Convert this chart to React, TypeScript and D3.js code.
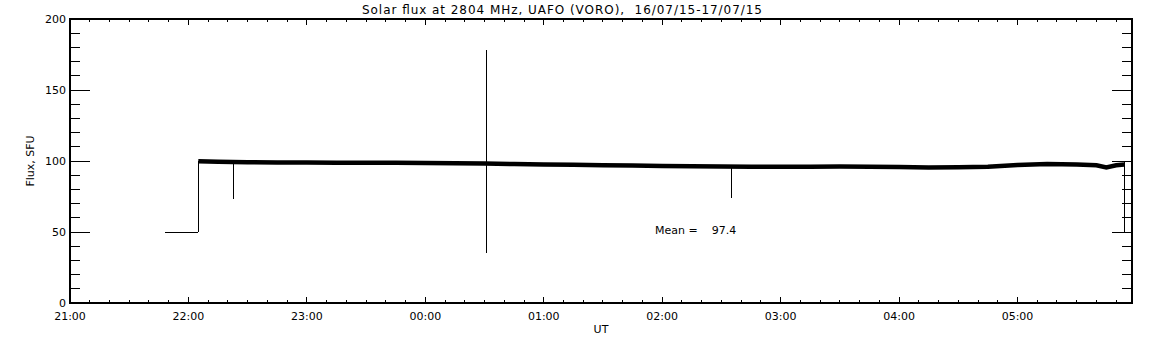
import * as d3 from "d3";

// time stamps (UT) and flux values
const trendTimes = [
  "22:05", "22:15", "22:30", "22:45", "23:00", "23:15", "23:30", "23:45",
  "00:00", "00:15", "00:30", "00:45", "01:00", "01:15", "01:30", "01:45",
  "02:00", "02:15", "02:30", "02:45", "03:00", "03:15", "03:30", "03:45",
  "04:00", "04:15", "04:30", "04:45", "05:00", "05:15", "05:30", "05:40",
  "05:45", "05:50", "05:54",
];
const trendFlux = [
  99.8, 99.5, 99.2, 99.0, 98.9, 98.8, 98.8, 98.7,
  98.6, 98.4, 98.3, 97.8, 97.6, 97.3, 97.0, 96.8,
  96.5, 96.3, 96.2, 96.0, 95.9, 96.0, 96.2, 96.0,
  95.7, 95.5, 95.6, 96.0, 97.2, 97.8, 97.5, 97.0,
  95.5, 97.0, 97.6,
];

// gap-filled start (50 SFU) before the receiver came on
const startTimes = ["21:48", "22:05"];
const startFlux = [50, 50];

// single-sample spikes: time, top, bottom
const spikeTimes = ["22:23", "00:31", "02:35", "05:54"];
const spikeTop = [99, 178, 96, 100];
const spikeBottom = [73, 35, 74, 50];

const xTickLabels = ["21:00", "22:00", "23:00", "00:00", "01:00", "02:00", "03:00", "04:00", "05:00"];
const yTickValues = [0, 50, 100, 150, 200];

const title = "Solar flux at 2804 MHz, UAFO (VORO),  16/07/15-17/07/15";
const meanText = "Mean =    97.4";

const W = 1152;
const H = 345;
const left = 70;
const right = 1132;
const top = 19;
const bottom = 303;

// minutes after 21:00 UT
function toMin(t: string) {
  const [h, m] = t.split(":").map(Number);
  const hh = h >= 21 ? h - 21 : h + 3;
  return hh * 60 + m;
}

export default function App() {
  const x = d3.scaleLinear().domain([0, 538]).range([left, right]);
  const y = d3.scaleLinear().domain([0, 200]).range([bottom, top]);

  const trend = trendTimes.map((t, i) => [toMin(t), trendFlux[i]] as [number, number]);
  const startSeg = startTimes.map((t, i) => [toMin(t), startFlux[i]] as [number, number]);

  const line = d3
    .line<[number, number]>()
    .x((d) => x(d[0]))
    .y((d) => y(d[1]));

  const majorX = d3.range(0, 539, 60);
  const minorX = d3.range(0, 539, 10).filter((v) => v % 60 !== 0);
  const minorY = d3.range(0, 201, 10).filter((v) => v % 50 !== 0);

  const font = "DejaVu Sans, sans-serif";

  return (
    <svg
      width={W}
      height={H}
      style={{ position: "absolute", left: 0, top: 0, background: "#fff" }}
      shapeRendering="crispEdges"
    >
      <rect x={0} y={0} width={W} height={H} fill="#fff" />
      <text
        x={562}
        y={14}
        textAnchor="middle"
        fontFamily={font}
        fontSize={12}
        textLength={400}
        fill="#000"
        style={{ whiteSpace: "pre" }}
      >
        {title}
      </text>

      {/* frame */}
      <rect x={left} y={top} width={right - left} height={bottom - top} fill="none" stroke="#000" strokeWidth={1.2} />

      {/* y ticks, left and right */}
      {yTickValues.map((v) => (
        <g key={"yt" + v}>
          <line x1={left} x2={left + 20} y1={y(v)} y2={y(v)} stroke="#000" />
          <line x1={right - 20} x2={right} y1={y(v)} y2={y(v)} stroke="#000" />
          <text x={left - 4} y={y(v) + 4} textAnchor="end" fontFamily={font} fontSize={11} fill="#000">
            {v}
          </text>
        </g>
      ))}
      {minorY.map((v) => (
        <g key={"ym" + v}>
          <line x1={left} x2={left + 10} y1={y(v)} y2={y(v)} stroke="#000" />
          <line x1={right - 10} x2={right} y1={y(v)} y2={y(v)} stroke="#000" />
        </g>
      ))}

      {/* x ticks, bottom and top */}
      {majorX.map((v, i) => (
        <g key={"xt" + v}>
          <line x1={x(v)} x2={x(v)} y1={bottom} y2={bottom - 6} stroke="#000" />
          <line x1={x(v)} x2={x(v)} y1={top} y2={top + 6} stroke="#000" />
          <text x={x(v)} y={320} textAnchor="middle" fontFamily={font} fontSize={11} fill="#000">
            {xTickLabels[i]}
          </text>
        </g>
      ))}
      {minorX.map((v) => (
        <g key={"xm" + v}>
          <line x1={x(v)} x2={x(v)} y1={bottom} y2={bottom - 3} stroke="#000" />
          <line x1={x(v)} x2={x(v)} y1={top} y2={top + 3} stroke="#000" />
        </g>
      ))}

      <text x={601} y={333} textAnchor="middle" fontFamily={font} fontSize={11} fill="#000">
        UT
      </text>
      <text
        transform={`translate(34,${(top + bottom) / 2}) rotate(-90)`}
        textAnchor="middle"
        fontFamily={font}
        fontSize={11}
        fill="#000"
      >
        Flux, SFU
      </text>

      {/* data */}
      <path d={line(startSeg) ?? ""} fill="none" stroke="#000" strokeWidth={1} />
      <line
        x1={x(toMin("22:05"))}
        x2={x(toMin("22:05"))}
        y1={y(50)}
        y2={y(100)}
        stroke="#000"
      />
      <path d={line(trend) ?? ""} fill="none" stroke="#000" strokeWidth={4.5} shapeRendering="auto" />
      {spikeTimes.map((t, i) => (
        <line
          key={"sp" + i}
          x1={x(toMin(t))}
          x2={x(toMin(t))}
          y1={y(spikeTop[i])}
          y2={y(spikeBottom[i])}
          stroke="#000"
        />
      ))}

      <text x={655} y={234} fontFamily={font} fontSize={11} fill="#000" style={{ whiteSpace: "pre" }}>
        {meanText}
      </text>
    </svg>
  );
}
